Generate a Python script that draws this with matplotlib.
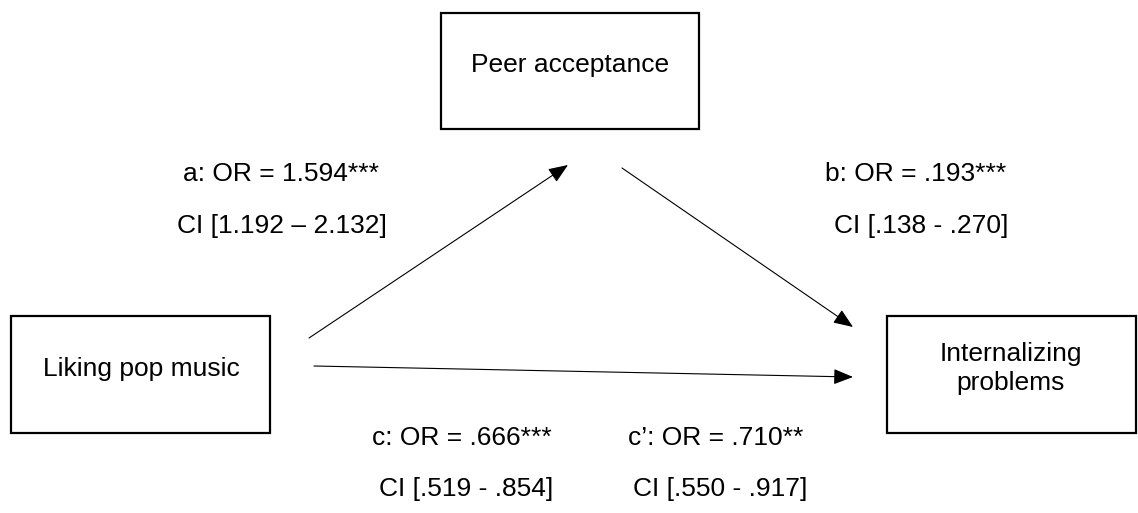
import matplotlib.pyplot as plt
from matplotlib.patches import Rectangle

plt.rcParams['font.family'] = ['Liberation Sans', 'DejaVu Sans']

# Nodes of the mediation model (pixel layout, y measured from top)
node_labels = ['Liking pop music', 'Peer acceptance', 'Internalizing\nproblems']
node_boxes = [(11, 316, 259, 117), (441, 13, 258, 116), (887, 316, 249, 117)]
node_text_pos = [(141, 376), (570, 72), (1011, 390)]

# Paths: start -> end
path_starts = [(309, 338), (622, 168), (314, 366)]
path_ends = [(568, 165), (853, 327), (853, 377)]

# Coefficient labels
coef_labels = ['a: OR = 1.594***', 'b: OR = .193***', 'c: OR = .666***', 'c\u2019: OR = .710**']
ci_labels = ['CI [1.192 \u2013 2.132]', 'CI [.138 - .270]', 'CI [.519 - .854]', 'CI [.550 - .917]']
coef_pos = [(281, 181), (916, 181), (462, 445), (716, 445)]
ci_pos = [(282, 233), (921, 233), (466, 496), (720, 496)]

fig = plt.figure(figsize=(11.38, 5.13), dpi=100)
ax = fig.add_axes([0, 0, 1, 1])
ax.set_xlim(0, 1138)
ax.set_ylim(513, 0)
ax.axis('off')

FS = 19

for label, (x, y, w, h), (tx, ty) in zip(node_labels, node_boxes, node_text_pos):
    ax.add_patch(Rectangle((x, y), w, h, fill=False, edgecolor='black', linewidth=1.6))
    ax.text(tx, ty, label, ha='center', va='baseline', fontsize=FS,
            linespacing=1.25, multialignment='center')

for (x0, y0), (x1, y1) in zip(path_starts, path_ends):
    ax.annotate('', xy=(x1, y1), xytext=(x0, y0),
                arrowprops=dict(arrowstyle='-|>,head_length=0.4,head_width=0.16',
                                color='black', lw=0.8, mutation_scale=30,
                                shrinkA=0, shrinkB=0))

for txt, (x, y) in zip(coef_labels, coef_pos):
    ax.text(x, y, txt, ha='center', va='baseline', fontsize=FS)
for txt, (x, y) in zip(ci_labels, ci_pos):
    ax.text(x, y, txt, ha='center', va='baseline', fontsize=FS)

plt.savefig('out.png', dpi=100)
